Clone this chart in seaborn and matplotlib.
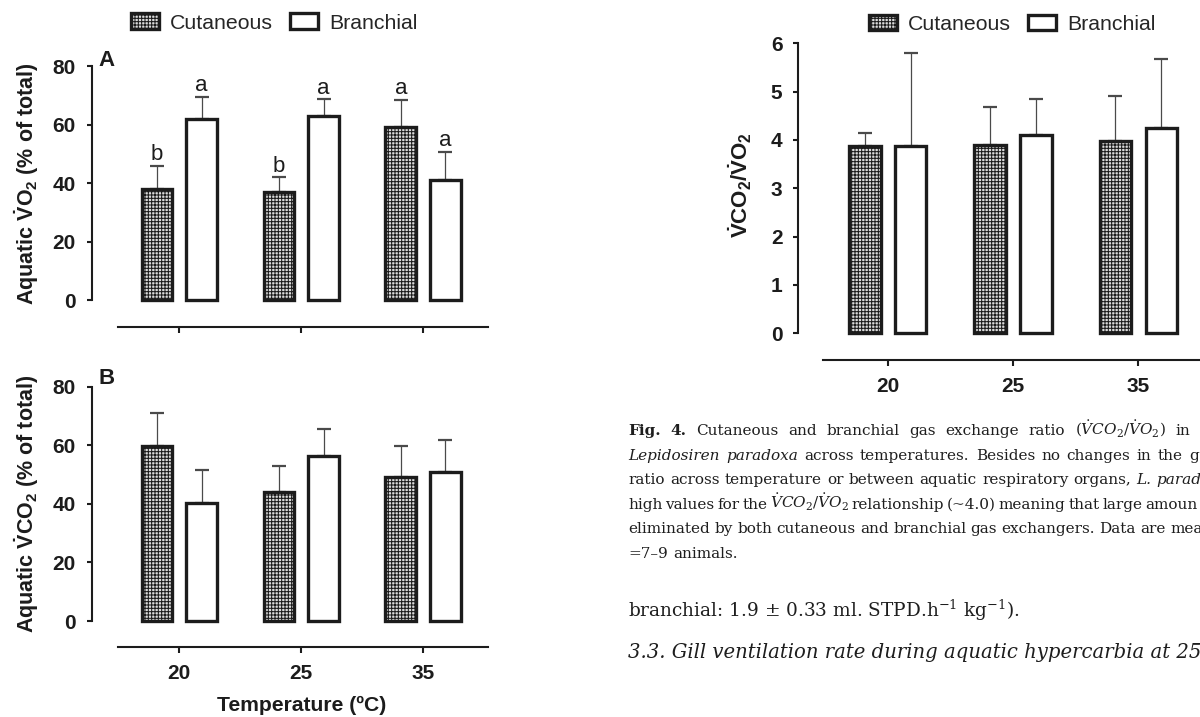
import numpy as np
import pandas as pd
import seaborn as sns
import matplotlib.pyplot as plt
from matplotlib.patches import Patch

# ---- data ----
temps = ['20', '25', '35']
organs = ['Cutaneous', 'Branchial']

# panel A: aquatic VO2 (% of total), mean and upper SEM
vo2_cut = [38.0, 36.8, 59.0]
vo2_cut_sem = [7.8, 5.2, 9.4]
vo2_br = [61.9, 63.0, 41.0]
vo2_br_sem = [7.5, 5.6, 9.7]
vo2_cut_letters = ['b', 'b', 'a']
vo2_br_letters = ['a', 'a', 'a']

# panel B: aquatic VCO2 (% of total)
vco2_cut = [59.8, 43.9, 49.3]
vco2_cut_sem = [11.2, 9.1, 10.3]
vco2_br = [40.4, 56.4, 51.0]
vco2_br_sem = [11.1, 9.1, 10.6]

# Fig. 4: VCO2/VO2 ratio
ratio_cut = [3.88, 3.90, 3.98]
ratio_cut_sem = [0.27, 0.79, 0.94]
ratio_br = [3.875, 4.10, 4.24]
ratio_br_sem = [1.935, 0.75, 1.44]

# caption / body text of the page (only the part visible in the crop)
cap_lines = [
    [('Fig.', 'b'), ('4.', 'b'), ('Cutaneous', 'r'), ('and', 'r'), ('branchial', 'r'), ('gas', 'r'),
     ('exchange', 'r'), ('ratio', 'r'), (r'$(\dot{V}CO_2/\dot{V}O_2)$', 'r'), ('in', 'r')],
    [('Lepidosiren', 'i'), ('paradoxa', 'i'), ('across', 'r'), ('temperatures.', 'r'), ('Besides', 'r'),
     ('no', 'r'), ('changes', 'r'), ('in', 'r'), ('the', 'r'), ('g', 'r')],
    [('ratio', 'r'), ('across', 'r'), ('temperature', 'r'), ('or', 'r'), ('between', 'r'), ('aquatic', 'r'),
     ('respiratory', 'r'), ('organs,', 'r'), ('L.', 'i'), ('parad', 'i')],
    [('high', 'r'), ('values', 'r'), ('for', 'r'), ('the', 'r'), (r'$\dot{V}CO_2/\dot{V}O_2$', 'r'),
     ('relationship', 'r'), ('(~4.0)', 'r'), ('meaning', 'r'), ('that', 'r'), ('large', 'r'), ('amoun', 'r')],
    [('eliminated', 'r'), ('by', 'r'), ('both', 'r'), ('cutaneous', 'r'), ('and', 'r'), ('branchial', 'r'),
     ('gas', 'r'), ('exchangers.', 'r'), ('Data', 'r'), ('are', 'r'), ('mea', 'r')],
    [('=7\u20139', 'r'), ('animals.', 'r')],
]
cap_last_x = [1175.7, 1189, 1156.7, 1145, 1170, None]
cap_base_y = [435, 459.6, 484.2, 508.8, 533.4, 558]
body_text = r'branchial: 1.9 $\pm$ 0.33 ml. STPD.h$^{-1}$ kg$^{-1}$).'
heading_text = '3.3. Gill ventilation rate during aquatic hypercarbia at 25'

# ---- style ----
sns.set_style('ticks')
SANS = ['Liberation Sans', 'DejaVu Sans']
SERIF = ['DejaVu Serif']
plt.rcParams['font.family'] = SANS
plt.rcParams['mathtext.fontset'] = 'custom'
plt.rcParams['mathtext.rm'] = 'Liberation Sans:bold'
plt.rcParams['mathtext.it'] = 'Liberation Sans:bold'
plt.rcParams['mathtext.bf'] = 'Liberation Sans:bold'
plt.rcParams['hatch.color'] = '#444444'
plt.rcParams['hatch.linewidth'] = 0.75
EDGE = '#1c1c1c'
HATCH = '+++++'
pal = {'Cutaneous': '#dcdcdc', 'Branchial': 'white'}

W, H = 1200, 717
fig = plt.figure(figsize=(12, 7.17), dpi=100)


def add_ax(x0, x1, y_top, y_bot):
    return fig.add_axes([x0 / W, 1 - y_bot / H, (x1 - x0) / W, (y_bot - y_top) / H])


def draw_bars(ax, cut, cut_sem, br, br_sem):
    df = pd.DataFrame({'temp': temps * 2,
                       'organ': [organs[0]] * 3 + [organs[1]] * 3,
                       'value': cut + br})
    sns.barplot(data=df, x='temp', y='value', hue='organ', order=temps, hue_order=organs,
                palette=pal, width=0.732, gap=0.314, errorbar=None, edgecolor=EDGE,
                linewidth=2.4, saturation=1, legend=False, ax=ax)
    conts = list(ax.containers[:2])
    for b in conts[0]:
        b.set_hatch(HATCH)
    tops = []
    for cont, sem in zip(conts, [cut_sem, br_sem]):
        xs = [b.get_x() + b.get_width() / 2 for b in cont]
        ys = [b.get_height() for b in cont]
        ax.errorbar(xs, ys, yerr=[np.zeros(len(sem)), sem], fmt='none', ecolor='#4a4a4a',
                    elinewidth=0.9, capsize=4.7, capthick=1.6, zorder=0.9)
        tops.append((xs, [y + s for y, s in zip(ys, sem)]))
    return tops


def style_axis(ax, xlim, ylim, ybounds, xbounds, yticks, outward, xlabels=True):
    ax.set_xlim(*xlim)
    ax.set_ylim(*ylim)
    sns.despine(ax=ax)
    ax.spines['left'].set_bounds(*ybounds)
    ax.spines['bottom'].set_bounds(*xbounds)
    ax.spines['bottom'].set_position(('outward', outward))
    for s in ['left', 'bottom']:
        ax.spines[s].set_linewidth(1.5)
        ax.spines[s].set_color(EDGE)
    ax.set_yticks(yticks)
    ax.tick_params(axis='y', length=3.4, width=1.5, pad=8, labelsize=15, colors=EDGE)
    ax.tick_params(axis='x', length=4.5, width=1.5, pad=8, labelsize=15, colors=EDGE,
                   labelbottom=xlabels)
    for lab in ax.get_yticklabels() + ax.get_xticklabels():
        lab.set_fontweight('bold')
    ax.set_xlabel('')
    ax.set_ylabel('')
    ax.patch.set_alpha(0)


# ---- panel A ----
axA = add_ax(91.8, 179.3 + 2.54 * 121.9, 60.15, 304.4)
topsA = draw_bars(axA, vo2_cut, vo2_cut_sem, vo2_br, vo2_br_sem)
style_axis(axA, (-0.718, 2.54), (-1.5, 82), (0, 80), (-0.5, 2.532), [0, 20, 40, 60, 80], 16.3, False)
for (xs, ys), letters in zip(topsA, [vo2_cut_letters, vo2_br_letters]):
    for x, y, l in zip(xs, ys, letters):
        axA.text(x, y + 0.2, l, ha='center', va='bottom', fontsize=16, color=EDGE)

# ---- panel B ----
axB = add_ax(91.8, 179.3 + 2.54 * 121.9, 380.7, 625.4)
draw_bars(axB, vco2_cut, vco2_cut_sem, vco2_br, vco2_br_sem)
style_axis(axB, (-0.718, 2.54), (-1.5, 82), (0, 80), (-0.5, 2.532), [0, 20, 40, 60, 80], 15.6, True)

# ---- Fig. 4 panel ----
axC = add_ax(798.3, 887.7 + 2.9 * 125.3, 38.5, 338.1)
draw_bars(axC, ratio_cut, ratio_cut_sem, ratio_br, ratio_br_sem)
style_axis(axC, (-0.7135, 2.9), (-0.1, 6.1), (0, 6), (-0.517, 2.9), [0, 1, 2, 3, 4, 5, 6], 15.8, True)

# axis labels and panel letters
fig.text(26.8 / W, 1 - 183.4 / H, r'Aquatic $\dot{V}O_2$ (% of total)', rotation=90,
         ha='center', va='center', fontsize=15.5, fontweight='bold', color=EDGE)
fig.text(26.8 / W, 1 - 504 / H, r'Aquatic $\dot{V}CO_2$ (% of total)', rotation=90,
         ha='center', va='center', fontsize=15.5, fontweight='bold', color=EDGE)
fig.text(740 / W, 1 - 185 / H, r'$\dot{V}CO_2/\dot{V}O_2$', rotation=90,
         ha='center', va='center', fontsize=16, fontweight='bold', color=EDGE)
fig.text(301.4 / W, 1 - 705 / H, 'Temperature (\u00baC)', ha='center', va='center',
         fontsize=15.2, fontweight='bold', color=EDGE)
fig.text(98.7 / W, 1 - 61 / H, 'A', ha='left', va='center', fontsize=16, fontweight='bold', color=EDGE)
fig.text(98.7 / W, 1 - 378 / H, 'B', ha='left', va='center', fontsize=16, fontweight='bold', color=EDGE)

# legends
handles = [Patch(facecolor=pal['Cutaneous'], edgecolor=EDGE, hatch=HATCH, linewidth=2.4),
           Patch(facecolor=pal['Branchial'], edgecolor=EDGE, linewidth=2.4)]
for cx, cy in [(274.2, 23), (1012.5, 24.5)]:
    fig.legend(handles, organs, loc='center', bbox_to_anchor=(cx / W, 1 - cy / H), ncol=2,
               frameon=False, fontsize=15.3, handlelength=1.31, handleheight=0.73,
               handletextpad=0.52, columnspacing=0.8, borderpad=0, borderaxespad=0)

# ---- caption text, justified ----
renderer = fig.canvas.get_renderer()
CAP_SIZE = 11
for words, x_last, yb in zip(cap_lines, cap_last_x, cap_base_y):
    objs = []
    for w, st in words:
        objs.append(fig.text(0, 1 - yb / H, w, fontsize=CAP_SIZE, family=SERIF,
                             fontweight='bold' if st == 'b' else 'normal',
                             fontstyle='italic' if st == 'i' else 'normal',
                             math_fontfamily='dejavuserif', va='baseline', color='#1e1e1e'))
    widths = [t.get_window_extent(renderer).width for t in objs]
    if x_last is None:
        gap = CAP_SIZE * 0.318 * 100 / 72
    else:
        gap = (x_last - 628.3 - sum(widths[:-1])) / (len(objs) - 1)
    x = 628.3
    for t, wd in zip(objs, widths):
        t.set_x(x / W)
        x += wd + gap

fig.text(627.7 / W, 1 - 616.7 / H, body_text, fontsize=13.3, family=SERIF,
         math_fontfamily='dejavuserif', va='baseline', color='#1e1e1e')
fig.text(627.7 / W, 1 - 658 / H, heading_text, fontsize=14.1, family=SERIF, fontstyle='italic',
         va='baseline', color='#1e1e1e')

fig.savefig('out.png', dpi=100)
